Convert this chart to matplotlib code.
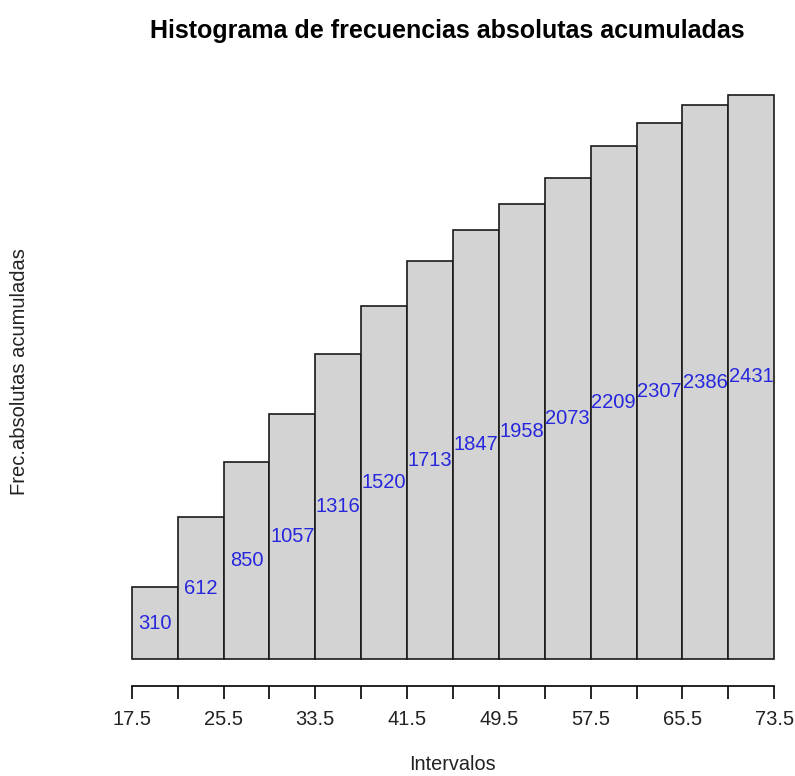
import numpy as np
import matplotlib
matplotlib.use('Agg')
import matplotlib.pyplot as plt

breaks=[17.5,21.5,25.5,29.5,33.5,37.5,41.5,45.5,49.5,53.5,57.5,61.5,65.5,69.5,73.5]
acum=[310,612,850,1057,1316,1520,1713,1847,1958,2073,2209,2307,2386,2431]
ticklabs=['17.5','25.5','33.5','41.5','49.5','57.5','65.5','73.5']

plt.rcParams['font.family']=['Liberation Sans','DejaVu Sans']
fig=plt.figure(figsize=(7.95,7.76),dpi=100)
# plot region in pixels: x 106..800, y 72..682
W,H=795,776
ax=fig.add_axes([106/W,1-682/H,694/W,610/H])
lo,hi=0,max(acum)
ax.set_ylim(lo-0.04*hi,hi*1.04)
ax.set_xlim(breaks[0]-0.04*(breaks[-1]-breaks[0]),breaks[-1]+0.04*(breaks[-1]-breaks[0]))
left=np.array(breaks[:-1])
width=np.diff(breaks)
ax.bar(left,acum,width=width,align='edge',color='#d3d3d3',edgecolor='#1a1a1a',linewidth=1.2)
mids=left+width/2
for x,v in zip(mids,acum):
 ax.text(x,v/2,str(v),color='#2626dd',ha='center',va='center',fontsize=14.5)
for s in ['top','right','left']:
 ax.spines[s].set_visible(False)
ax.spines['bottom'].set_bounds(breaks[0],breaks[-1])
ax.spines['bottom'].set_position(('outward',3))
ax.spines['bottom'].set_linewidth(1.2)
ax.set_yticks([])
ax.set_xticks(breaks)
ax.set_xticklabels([b if b in ticklabs else '' for b in ['%g'%x for x in breaks]],fontsize=14.5,color='#222222')
ax.tick_params(axis='x',length=9,width=1.2,pad=8)
fig.text(447/W,1-31/H,'Histograma de frecuencias absolutas acumuladas',ha='center',va='center',fontsize=18,fontweight='bold')
fig.text(452/W,1-765/H,'Intervalos',ha='center',va='center',fontsize=14.3,color='#222222')
fig.text(20/W,1-372/H,'Frec.absolutas acumuladas',ha='center',va='center',rotation=90,fontsize=14.5,color='#222222')
fig.savefig('out.png',dpi=100)
